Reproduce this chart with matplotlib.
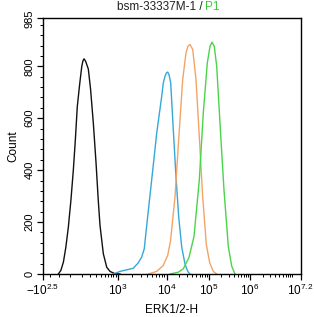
"""
Flow cytometry overlay histogram: ERK1/2-H, bsm-33337M-1 / P1.
"""

import numpy as np
import matplotlib
matplotlib.use("Agg")
import matplotlib.pyplot as plt

plt.rcParams["font.family"] = ["Liberation Sans", "DejaVu Sans"]
plt.rcParams["mathtext.fontset"] = "custom"
plt.rcParams["mathtext.rm"] = "Liberation Sans"
plt.rcParams["mathtext.it"] = "Liberation Sans:italic"

# ── Data (ERK1/2-H value, event count) ─────────────────────────
black_x = [-104, -80, -57, -36, -15, 6, 26, 43, 60, 81, 102, 113, 125, 142,
           175, 205, 246, 292, 334, 370, 450, 547, 659, 872, 1125]
black_y = [0, 14, 46, 103, 181, 284, 400, 516, 645, 729, 800, 820, 829, 820,
           790, 712, 581, 427, 284, 188, 78, 26, 10, 1, 0]

blue_x = [793, 1125, 1541, 2101, 2658, 3118, 3523, 3944, 4989, 6310, 7980,
          8600, 9320, 9910, 10672, 11450, 12556, 14454, 16730, 19370, 22790,
          24850, 27250, 29880, 32580, 35730]
blue_y = [0, 10, 16, 22, 43, 65, 97, 185, 362, 542, 684,
          736, 761, 774, 778, 768, 736, 555, 374, 220, 104,
          72, 39, 20, 7, 0]

orange_x = [4252, 6310, 8600, 10672, 12420, 15850, 20010, 24050, 28770,
            32050, 35730, 41350, 49440, 59120, 71070, 86400, 104000,
            127300, 154100]
orange_y = [0, 10, 33, 72, 127, 297, 555, 749, 852,
            878, 884, 865, 749, 529, 297, 114, 43,
            10, 0]

green_x = [12090, 18950, 24850, 33830, 44370, 59120, 73410, 91200, 105800,
           118400, 134700, 154100, 185500, 232200, 295600, 357800, 430600]
green_y = [0, 7, 20, 64, 145, 362, 620, 813, 877,
           893, 877, 800, 581, 323, 107, 30, 0]

x_ticks = [-10 ** 2.5, 1e3, 1e4, 1e5, 1e6, 10 ** 7.2]
x_ticklabels = [r"$-10^{2.5}$", r"$10^{3}$", r"$10^{4}$", r"$10^{5}$",
                r"$10^{6}$", r"$10^{7.2}$"]
y_ticks = [0, 200, 400, 600, 800, 985]

# ── Logicle-like x scale (asinh, fitted to the tick positions) ──
W = 150.0
ANCH_T = np.arcsinh(np.array(x_ticks) / W)
ANCH_P = np.array([0.0, 74.5, 123.5, 166.0, 207.0, 257.5])


def fwd(x):
    return np.interp(np.arcsinh(np.asarray(x, dtype=float) / W), ANCH_T, ANCH_P)


def inv(p):
    return W * np.sinh(np.interp(np.asarray(p, dtype=float), ANCH_P, ANCH_T))


fig = plt.figure(figsize=(3.14, 3.17), dpi=100)
ax = fig.add_axes([43 / 314, 1 - 274 / 317, 257.5 / 314, (274 - 18.3) / 317])
ax.set_xscale("function", functions=(fwd, inv))

ax.plot(black_x, black_y, color="#111111", lw=1.0)
ax.plot(blue_x, blue_y, color="#35a8d8", lw=1.0)
ax.plot(orange_x, orange_y, color="#f2a467", lw=1.0)
ax.plot(green_x, green_y, color="#4ad44a", lw=1.0)

ax.set_xlim(x_ticks[0], x_ticks[-1])
ax.set_ylim(0, 985)

ax.set_xticks(x_ticks)
ax.set_xticklabels(x_ticklabels, fontsize=8.5)
minor_x = [v for v in range(-200, 1000, 100)]
for k in range(3, 7):
    minor_x += [m * 10 ** k for m in range(2, 10)]
minor_x += [1e7]
ax.set_xticks(minor_x, minor=True)

ax.set_yticks(y_ticks)
ax.set_yticklabels([str(v) for v in y_ticks], fontsize=8, rotation=90,
                   va="center")
ax.set_yticks([v for v in range(40, 985, 40) if v % 200], minor=True)

ax.tick_params(which="major", length=4, width=0.9, pad=2, color="black")
ax.tick_params(which="minor", length=2.5, width=0.7, color="black")
for s in ax.spines.values():
    s.set_linewidth(1.0)

ax.set_ylabel("Count", fontsize=8.5, labelpad=4)
ax.set_xlabel("ERK1/2-H", fontsize=8.5, labelpad=5)

fig.text(203 / 314, 1 - 7.5 / 317, "bsm-33337M-1 /", ha="right", va="center",
         fontsize=8.5, color="#222222")
fig.text(205 / 314, 1 - 7.5 / 317, "P1", ha="left", va="center",
         fontsize=8.5, color="#3cc83c")

fig.savefig("out.png", dpi=100)
